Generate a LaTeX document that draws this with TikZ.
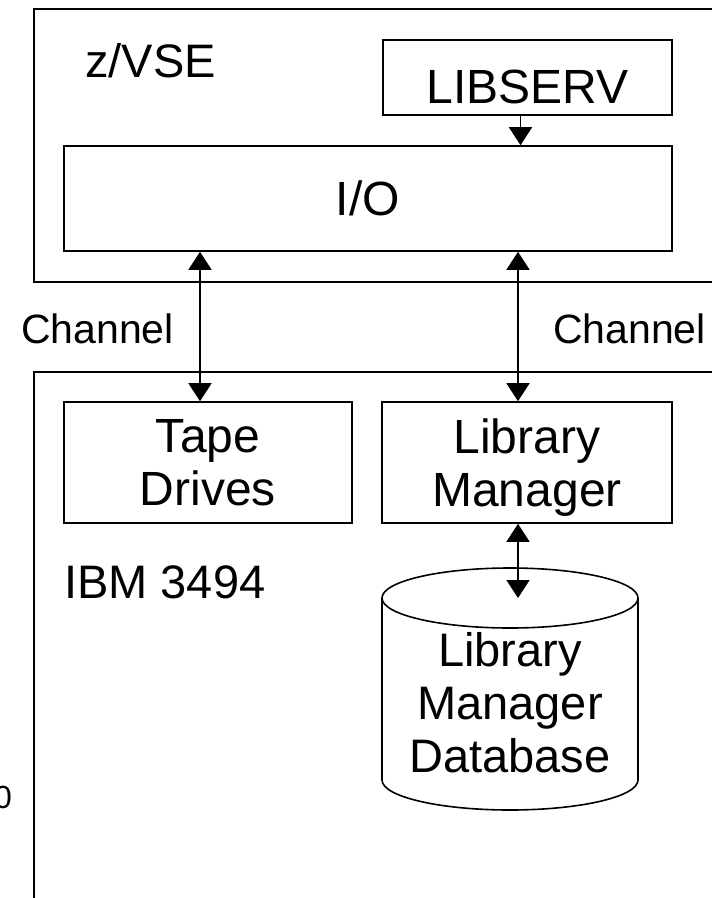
\documentclass[tikz,border=0pt]{standalone}
\usepackage{fontspec}
\setmainfont{Liberation Sans}
\usetikzlibrary{arrows.meta}

\tikzset{
  frame/.style={line width=1.6pt},
  box/.style={draw, line width=1.6pt, inner sep=0pt, align=center,
    text depth=0pt, font=\fontsize{48}{53}\selectfont},
  lbl/.style={inner sep=0pt, font=\fontsize{47}{53}\selectfont},
  link/.style={line width=1.6pt, -{Triangle[width=23pt,length=18pt]}},
  dlink/.style={line width=1.6pt, {Triangle[width=23pt,length=18pt]}-{Triangle[width=23pt,length=18pt]}}
}

\begin{document}
\begin{tikzpicture}[x=1pt,y=-1pt]
  \clip (0,0) rectangle (712,898);
%    z/VSE side
    \draw[frame] (34,9) rectangle (740,282);
    \node[lbl, anchor=base west] (vse) at (85,77) {z/VSE};
    \node[box, minimum width=289pt, minimum height=75pt, text height=51pt] (libserv) at (527.5,77.5) {LIBSERV};
    \node[box, minimum width=608pt, minimum height=105pt] (io) at (368,198.5) {I/O};
    \draw[link] ([xshift=-7pt]libserv.south) -- ([xshift=-7pt]libserv.south |- io.north);
%    library side
    \draw[frame] (34,372) rectangle (740,930);
    \node[box, minimum width=288pt, minimum height=121pt] (tape) at (208,462.5) {Tape\\Drives};
    \node[box, minimum width=290pt, minimum height=121pt] (libmgr) at (527,462.5) {Library\\Manager};
    \node[lbl, anchor=base west] (ibm) at (64,598) {IBM 3494};
    % database cylinder
    \draw[frame] (510,598) ellipse[x radius=128, y radius=30];
    \draw[frame] (382,598) -- (382,780) arc[start angle=180, end angle=0, x radius=128, y radius=30] -- (638,598);
    \coordinate (dbtop) at (510,598);
    \node[lbl, align=center, text depth=0pt] (dbtext) at (510,702) {Library\\Manager\\Database};
    \node[inner sep=0pt, anchor=base east, font=\fontsize{32}{36}\selectfont] (cut) at (12,808) {0};
%    channels
    \node[lbl, anchor=base west, font=\fontsize{41}{46}\selectfont] (chl) at (21,343) {Channel};
    \node[lbl, anchor=base west, font=\fontsize{41}{46}\selectfont] (chr) at (553,343) {Channel};
    \draw[dlink] ([xshift=-8pt]tape.north) -- ([xshift=-8pt]tape.north |- io.south);
    \draw[dlink] ([xshift=-9pt]libmgr.north) -- ([xshift=-9pt]libmgr.north |- io.south);
    \draw[dlink] ([xshift=-9pt]libmgr.south) -- ([xshift=-9pt]libmgr.south |- dbtop);
  \end{tikzpicture}
\end{document}
